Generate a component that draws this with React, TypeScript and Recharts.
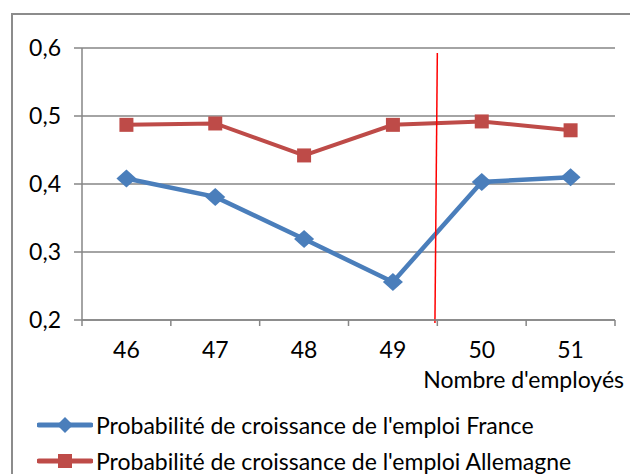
import React from 'react';
import { LineChart, Line, XAxis, YAxis, CartesianGrid, ReferenceLine, Legend } from 'recharts';

const employees = [46, 47, 48, 49, 50, 51];
const franceGrowth = [0.408, 0.381, 0.319, 0.256, 0.403, 0.41];
const germanyGrowth = [0.487, 0.489, 0.442, 0.487, 0.492, 0.479];
const yTicks = [0.2, 0.3, 0.4, 0.5, 0.6];
const xBoundaries = [45.5, 46.5, 47.5, 48.5, 49.5, 50.5, 51.5];
const thresholdLine = [
  { x: 49.5, y: 0.5926 },
  { x: 49.473, y: 0.1956 },
];

const FRANCE_NAME = "Probabilité de croissance de l'emploi France";
const GERMANY_NAME = "Probabilité de croissance de l'emploi Allemagne";
const BLUE = '#4A7EBB';
const RED = '#BE4B48';
const GRAY = '#868686';
const FONT = 'Lato, "Open Sans", sans-serif';

const CHART_W = 630;
const CHART_H = 466;
const MARGIN = { top: 40, right: 23, left: 14, bottom: 79 };
const Y_AXIS_W = 60;
const STEP = (CHART_W - MARGIN.left - MARGIN.right - Y_AXIS_W) / employees.length;

const data = employees.map((n, i) => ({
  n,
  france: franceGrowth[i],
  germany: germanyGrowth[i],
}));

const fmt = (v: number) => v.toFixed(1).replace('.', ',');

const XTick = (props: any) => {
  const { x, y, payload } = props;
  const v = payload.value + 0.5;
  if (!employees.includes(v)) return <g />;
  return (
    <text x={x + STEP / 2} y={y + 32} textAnchor="middle" fontSize={23} fill="#000" fontFamily={FONT}>
      {v}
    </text>
  );
};

const Diamond = (props: any) => {
  const { cx, cy, index } = props;
  if (cx == null || cy == null) return <g key={index} />;
  return (
    <polygon
      key={index}
      points={`${cx},${cy - 9} ${cx + 10},${cy} ${cx},${cy + 9} ${cx - 10},${cy}`}
      fill={BLUE}
    />
  );
};

const Square = (props: any) => {
  const { cx, cy, index } = props;
  if (cx == null || cy == null) return <g key={index} />;
  return <rect key={index} x={cx - 7} y={cy - 7} width={14} height={14} fill={RED} />;
};

const LegendBox = () => (
  <div style={{ fontFamily: FONT, fontSize: 23, color: '#000' }}>
    {[
      { name: FRANCE_NAME, color: BLUE, kind: 'diamond' },
      { name: GERMANY_NAME, color: RED, kind: 'square' },
    ].map((it) => (
      <div key={it.name} style={{ display: 'flex', alignItems: 'center', height: 36, whiteSpace: 'nowrap' }}>
        <svg width={56} height={20} style={{ marginRight: 3 }}>
          <line x1={2} y1={10} x2={54} y2={10} stroke={it.color} strokeWidth={5} strokeLinecap="round" />
          {it.kind === 'diamond' ? (
            <polygon points="28,2 36,10 28,18 20,10" fill={it.color} />
          ) : (
            <rect x={21} y={3} width={14} height={14} fill={it.color} />
          )}
        </svg>
        <span>{it.name}</span>
      </div>
    ))}
  </div>
);

const AxisTitle = (props: any) => {
  const { viewBox } = props;
  return (
    <text
      x={viewBox.x + viewBox.width + 9}
      y={viewBox.y + 68}
      textAnchor="end"
      fontSize={23}
      fill="#000"
      fontFamily={FONT}
    >
      Nombre d'employés
    </text>
  );
};

export default function App() {
  return (
    <div style={{ position: 'relative', width: CHART_W, height: CHART_H, overflow: 'hidden', fontFamily: FONT }}>
      <LineChart width={CHART_W} height={CHART_H} data={data} margin={MARGIN}>
        <CartesianGrid horizontal vertical={false} stroke={GRAY} strokeWidth={1.5} />
        <XAxis
          dataKey="n"
          type="number"
          domain={[45.5, 51.5]}
          ticks={xBoundaries}
          interval={0}
          height={75}
          tickSize={6}
          tickMargin={0}
          tick={<XTick />}
          axisLine={{ stroke: GRAY, strokeWidth: 1.5 }}
          tickLine={{ stroke: GRAY, strokeWidth: 1.5 }}
          label={<AxisTitle />}
        />
        <YAxis
          domain={[0.2, 0.6]}
          ticks={yTicks}
          width={Y_AXIS_W}
          tickSize={8}
          tickMargin={13}
          tickFormatter={fmt}
          tick={{ fontSize: 23, fill: '#000', fontFamily: FONT }}
          axisLine={{ stroke: GRAY, strokeWidth: 1.5 }}
          tickLine={{ stroke: GRAY, strokeWidth: 1.5 }}
        />
        <Line
          type="linear"
          dataKey="france"
          name={FRANCE_NAME}
          stroke={BLUE}
          strokeWidth={4.5}
          dot={Diamond}
          activeDot={false}
          isAnimationActive={false}
        />
        <Line
          type="linear"
          dataKey="germany"
          name={GERMANY_NAME}
          stroke={RED}
          strokeWidth={4}
          dot={Square}
          activeDot={false}
          isAnimationActive={false}
        />
        <ReferenceLine segment={thresholdLine} stroke="#FF0000" strokeWidth={1.5} ifOverflow="visible" />
        <Legend
          layout="vertical"
          align="center"
          verticalAlign="middle"
          content={<LegendBox />}
          wrapperStyle={{ left: 29, top: 399, width: 600 }}
        />
      </LineChart>
      <div
        style={{
          position: 'absolute',
          left: 3,
          top: 5,
          width: 800,
          height: 700,
          border: '2px solid #8c8c8c',
          pointerEvents: 'none',
        }}
      />
    </div>
  );
}
